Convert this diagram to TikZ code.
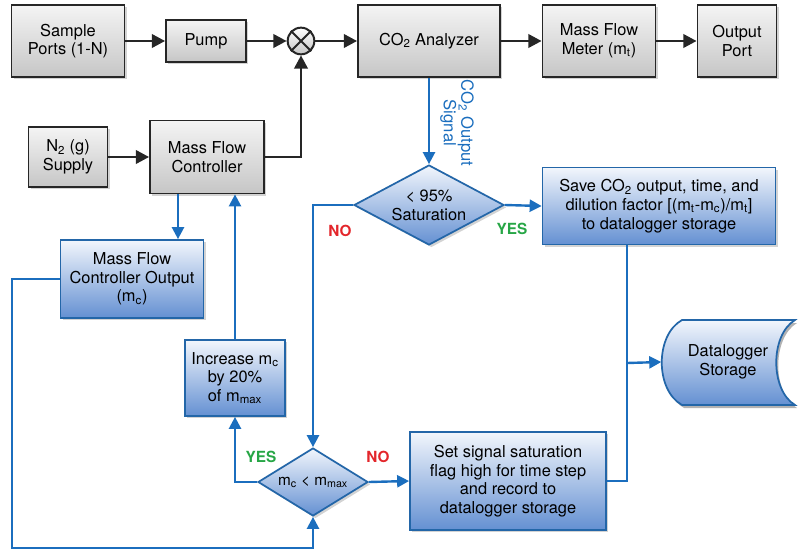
\documentclass[tikz,border=0pt]{standalone}
\usepackage{fontspec}
\setmainfont{TeX Gyre Heros}
\usetikzlibrary{arrows.meta,shapes.geometric,shadows}
\definecolor{lineblue}{HTML}{1B6EBE}
\definecolor{boxblue}{HTML}{2366A8}
\definecolor{bluetop}{HTML}{F2F6FC}
\definecolor{bluebot}{HTML}{6490D2}
\definecolor{greytop}{HTML}{F4F4F4}
\definecolor{greybot}{HTML}{C6C6C6}
\definecolor{noRed}{HTML}{E3262B}
\definecolor{yesGreen}{HTML}{27A646}
\newcommand{\sub}[1]{\textsubscript{#1}}
\tikzset{
  shad/.style={drop shadow={shadow xshift=1.8pt, shadow yshift=-1.8pt, opacity=0.35}},
  mainfont/.style={font=\fontsize{12.3}{14}\selectfont},
  greybox/.style={shape=rectangle, draw=black!85, line width=1.3pt, top color=greytop, bottom color=greybot, shad, align=center, inner sep=1pt, mainfont},
  bluebox/.style={shape=rectangle, draw=boxblue, line width=1.3pt, top color=bluetop, bottom color=bluebot, shad, align=center, inner sep=1pt, mainfont},
  bluediam/.style={shape=diamond, draw=boxblue, line width=1.3pt, top color=bluetop, bottom color=bluebot, shad, align=center, inner sep=-10pt},
  blk/.style={-{Triangle[length=10pt,width=10pt]}, line width=2.2pt, draw=black!85},
  bl/.style={-{Triangle[length=9pt,width=9pt]}, line width=1.8pt, draw=lineblue},
  blplain/.style={line width=1.8pt, draw=lineblue},
  nolab/.style={text=noRed, font=\bfseries\fontsize{11.5}{13}\selectfont},
  yeslab/.style={text=yesGreen, font=\bfseries\fontsize{11.5}{13}\selectfont},
}
\begin{document}
\begin{tikzpicture}[x=0.75pt, y=-0.75pt]
\useasboundingbox (0,0) rectangle (799,550);
% top row
\node[greybox, minimum width=84.75pt, minimum height=54pt] (sp) at (68,41) {Sample\\Ports (1-N)};
\node[greybox, minimum width=60pt, minimum height=31.5pt] (pump) at (206,41) {Pump};
\node[circle, draw=black!85, line width=1.5pt, minimum size=20pt, inner sep=0pt, top color=white, bottom color=greybot] (mix) at (301,41) {};
\draw[line width=1.5pt, black!85] (mix.north west) -- (mix.south east) (mix.north east) -- (mix.south west);
\node[greybox, minimum width=106.5pt, minimum height=54pt] (co2) at (429,41) {CO\sub{2} Analyzer};
\node[greybox, minimum width=84.75pt, minimum height=54pt] (mfm) at (599,41) {Mass Flow\\Meter (m\sub{t})};
\node[greybox, minimum width=59.25pt, minimum height=54pt] (op) at (737,41) {Output\\Port};
% second row
\node[greybox, minimum width=59.25pt, minimum height=45pt] (n2) at (68,157) {N\sub{2} (g)\\Supply};
\node[greybox, minimum width=85.5pt, minimum height=54.75pt] (mfc) at (207,157) {Mass Flow\\Controller};
% blue boxes
\node[bluebox, minimum width=107.25pt, minimum height=58.5pt] (mfco) at (132,279) {Mass Flow\\Controller Output\\(m\sub{c})};
\node[bluebox, minimum width=75pt, minimum height=57pt] (inc) at (235,378) {Increase m\sub{c}\\by 20\%\\of m\sub{max}};
\node[bluebox, minimum width=147pt, minimum height=73.5pt] (set) at (508,481) {Set signal saturation\\flag high for time step\\and record to\\datalogger storage};
\node[bluebox, minimum width=174.75pt, minimum height=57.75pt] (save) at (659,206) {Save CO\sub{2} output, time, and\\dilution factor [(m\sub{t}-m\sub{c})/m\sub{t}]\\to datalogger storage};
\node[bluediam, minimum width=112.5pt, minimum height=60pt, mainfont] (d1) at (429,205) {< 95\%\\Saturation};
\node[bluediam, minimum width=82.5pt, minimum height=51pt, font=\fontsize{11.5}{13}\selectfont] (d2) at (313,482) {m\sub{c} < m\sub{max}};
% datalogger storage
\node[minimum width=99.75pt, minimum height=63.75pt, inner sep=0pt] (dl) at (728,362) {};
\fill[black, opacity=0.3] (684,323) -- (797,323) .. controls (772,338) and (772,393) .. (797,408) -- (684,408) .. controls (657,393) and (657,338) .. (684,323) -- cycle;
\shade[top color=bluetop, bottom color=bluebot, draw=boxblue, line width=1.3pt] (682,320) -- (795,320) .. controls (770,335) and (770,390) .. (795,405) -- (682,405) .. controls (655,390) and (655,335) .. (682,320) -- cycle;
\node[align=center, mainfont] at (dl.center) {Datalogger\\Storage};
% black connectors
\draw[blk] (sp) -- (pump);
\draw[blk] (pump) -- (mix);
\draw[blk] (mix) -- (co2);
\draw[blk] (co2) -- (mfm);
\draw[blk] (mfm) -- (op);
\draw[blk] (n2) -- (mfc);
\draw[blk] (mfc.east) -| (mix.south);
% blue connectors
\coordinate (cx1) at (178,0);
\draw[bl] (mfc.south -| cx1) -- (mfco.north -| cx1);
\draw[bl] (inc.north) -- (mfc.south -| inc.north);
\coordinate (lp) at (12,548);
\draw[bl] (mfco.west) -| (lp) -| (d2.south);
\draw[bl] (d2.west) -| (inc.south);
\draw[bl] (d2.east) -- (set.west);
\draw[bl] (co2.south) -- (d1.north);
\draw[bl] (d1.east) -- (save.west);
\draw[bl] (d1.west) -| (d2.north);
\coordinate (cx2) at (627,363);
\draw[blplain] (set.east) -| (save.south -| cx2);
\draw[bl] (cx2) -- (dl.west);
% labels
\node[rotate=-90, align=center, text=lineblue, font=\fontsize{12.5}{13}\selectfont] (sig) at (457,123) {CO\sub{2} Output\\Signal};
\node[nolab] (no1) at (340,231) {NO};
\node[yeslab] (yes1) at (512,229) {YES};
\node[yeslab] (yes2) at (261,457) {YES};
\node[nolab] (no2) at (378,457) {NO};
\end{tikzpicture}
\end{document}
